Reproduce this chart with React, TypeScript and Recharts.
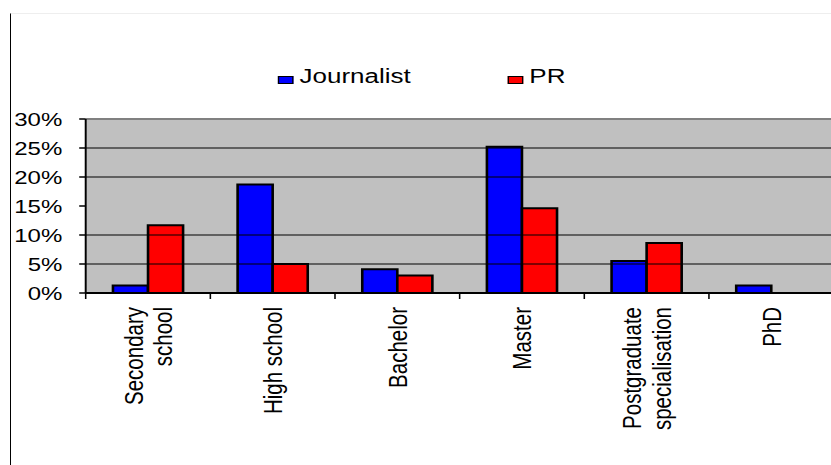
import { Bar, BarChart, CartesianGrid, Legend, ReferenceLine, XAxis, YAxis } from 'recharts';

const categories = ['Secondary\nschool', 'High school', 'Bachelor', 'Master', 'Postgraduate\nspecialisation', 'PhD'];
const journalist = [1.3, 18.7, 4.1, 25.2, 5.5, 1.3];
const pr = [11.7, 5.0, 3.0, 14.6, 8.6, 0];
const yTicks = [0, 5, 10, 15, 20, 25, 30];
// the source chart has no 15% gridline
const gridValues = [5, 10, 20, 25];

const data = categories.map((c, i) => ({ category: c, Journalist: journalist[i], PR: pr[i] }));

const FONT = '"Liberation Sans", Arial, sans-serif';
// the picture is stretched sideways, so the chart is drawn narrower and scaled
const INNER_W = 640;
const H = 465;
const STRETCH = 831 / INNER_W;
const legendX = [214, 391];

function CategoryTick(props: any) {
  const { x, y, payload, index } = props;
  const half = payload?.offset || 47.8;
  const lines = String(payload.value).split('\n');
  const lineGap = 22.6;
  return (
    <g>
      <line x1={x - half} x2={x - half} y1={y} y2={y + 6} stroke="#000" strokeWidth={1.2} />
      {index === categories.length - 1 && (
        <line x1={x + half} x2={x + half} y1={y} y2={y + 6} stroke="#000" strokeWidth={1.2} />
      )}
      <g transform={`translate(${x},${y + 14}) rotate(-90)`}>
        {lines.map((l, i) => (
          <text
            key={i}
            x={0}
            y={(i - (lines.length - 1) / 2) * lineGap}
            textAnchor="end"
            dominantBaseline="central"
            fontFamily={FONT}
            fontSize={20.5}
            fill="#000"
          >
            {l}
          </text>
        ))}
      </g>
    </g>
  );
}

function renderLegend(props: any) {
  const { payload = [] } = props;
  return (
    <div style={{ position: 'relative', width: INNER_W, height: 26, fontFamily: FONT, fontSize: 20, lineHeight: '23px', color: '#000' }}>
      {payload.map((entry: any, i: number) => (
        <div key={entry.value} style={{ position: 'absolute', left: legendX[i], top: 0 }}>
          <span
            style={{
              position: 'absolute',
              left: 0,
              top: 11,
              width: 11.5,
              height: 8,
              boxSizing: 'border-box',
              background: entry.color,
              border: '1px solid #000',
              borderTopWidth: 1.5,
            }}
          />
          <span style={{ position: 'absolute', left: 16.7, top: 0, whiteSpace: 'nowrap' }}>{entry.value}</span>
        </div>
      ))}
    </div>
  );
}

export default function App() {
  return (
    <div style={{ position: 'absolute', left: 0, top: 0, width: 831, height: H, background: '#fff', overflow: 'hidden' }}>
      <div
        style={{
          position: 'absolute',
          left: 10,
          top: 13,
          width: 821,
          height: H - 13,
          borderLeft: '1.5px solid #000',
          borderTop: '1px solid #eeeeee',
        }}
      />
      <div style={{ position: 'absolute', left: 0, top: 0, width: INNER_W, height: H, transform: `scaleX(${STRETCH})`, transformOrigin: '0 0' }}>
        <BarChart
          width={INNER_W + 2}
          height={H}
          data={data}
          margin={{ top: 119, right: 0, bottom: 0, left: 0 }}
          barGap={0}
          barSize={27}
        >
          <CartesianGrid fill="#c0c0c0" fillOpacity={1} vertical={false} horizontal={false} />
          {gridValues.map((v) => (
            <ReferenceLine key={v} y={v} stroke="#000" strokeWidth={1} />
          ))}
          <ReferenceLine y={30} stroke="#808080" strokeWidth={2} />
          <XAxis
            dataKey="category"
            interval={0}
            height={172}
            tickLine={false}
            tickSize={0}
            tickMargin={0}
            axisLine={{ stroke: '#000', strokeWidth: 2 }}
            tick={<CategoryTick />}
          />
          <YAxis
            domain={[0, 30]}
            ticks={yTicks}
            width={66}
            tickFormatter={(v: number) => `${v}%`}
            tickSize={5}
            tickMargin={13}
            tickLine={{ stroke: '#000', strokeWidth: 1.5 }}
            axisLine={{ stroke: '#000', strokeWidth: 1.5 }}
            tick={{ fill: '#000', fontSize: 18.5, fontFamily: FONT }}
            allowDataOverflow
          />
          <Legend
            layout="horizontal"
            verticalAlign="middle"
            align="center"
            content={renderLegend}
            wrapperStyle={{ top: 65, left: 0, width: INNER_W, height: 26 }}
          />
          <Bar dataKey="Journalist" fill="#0000ff" stroke="#000" strokeWidth={2} isAnimationActive={false} />
          <Bar dataKey="PR" fill="#ff0000" stroke="#000" strokeWidth={2} isAnimationActive={false} />
        </BarChart>
      </div>
    </div>
  );
}
